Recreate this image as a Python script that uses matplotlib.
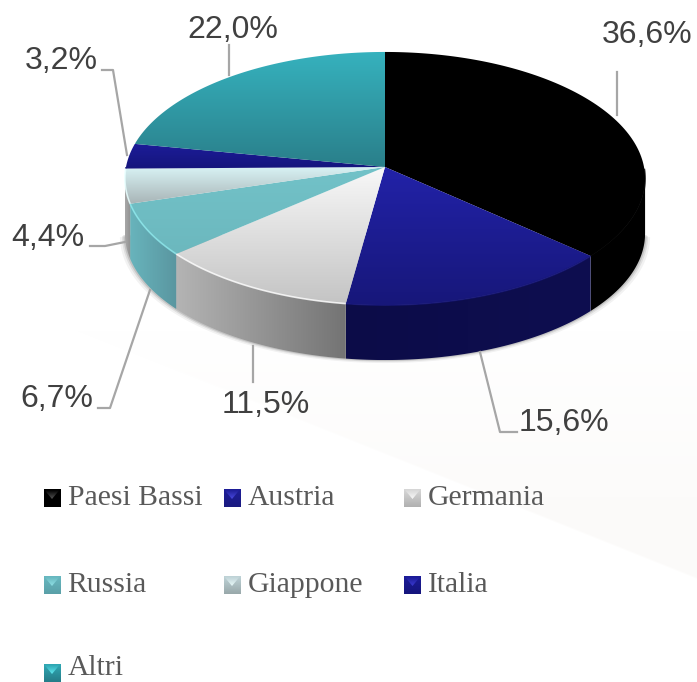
import numpy as np
import matplotlib
matplotlib.use('Agg')
import matplotlib.pyplot as plt
from matplotlib.patches import Polygon

categories = ['Paesi Bassi', 'Austria', 'Germania', 'Russia', 'Giappone', 'Italia', 'Altri']
values = [36.6, 15.6, 11.5, 6.7, 4.4, 3.2, 22.0]
value_labels = ['36,6%', '15,6%', '11,5%', '6,7%', '4,4%', '3,2%', '22,0%']

top_colors = [('#000000', '#000000'), ('#2222a8', '#17177a'), ('#f8f8f8', '#c4c4c4'),
              ('#72c2c8', '#6cb8be'), ('#d8f2f4', '#a8b4b6'), ('#1c1c98', '#15157c'),
              ('#36b2be', '#2a7f8a')]
side_colors = [('#000000', '#000000'), ('#0c0c48', '#0e0e50'), ('#b4b4b4', '#747474'),
               ('#68b4bc', '#5a96a0'), ('#a8a8a8', '#909090'), ('#909090', '#909090'),
               ('#2a8a95', '#2a8a95')]
rim_colors = ['#000000', '#17177a', '#ffffff', '#8ce8ec', '#e8ffff', '#15157c', '#40c0c8']

fig = plt.figure(figsize=(6.97, 6.82), dpi=100)
ax = fig.add_axes([0, 0, 1, 1])
ax.set_xlim(0, 697)
ax.set_ylim(682, 0)
ax.axis('off')

# faint background
yy, xx = np.mgrid[0:682, 0:697]
fade = np.clip((yy - 330) / 170, 0, 1) * np.clip((xx - 30) / 50, 0, 1)
edge = 460 + (xx - 402) * 0.4
fade = fade * np.clip((edge - yy) / 2 + 0.5, 0, 1)
tone = np.array([0.988, 0.984, 0.98])
bg = 1 - fade[..., None] * (1 - tone)
ax.imshow(bg, extent=(0, 697, 682, 0), aspect='auto', zorder=0, interpolation='bilinear')

CX, CY, RX, RY, K, DEPTH = 385.0, 167.0, 259.0, 125.5, 0.0909, 55.0


def rim(theta):
    u, v = np.sin(theta), -np.cos(theta)
    w = 1 - K * v
    return CX + RX * u / w, CY + RY * v / w


def gradient(poly, c1, c2, horizontal=False, zorder=2):
    xs, ys = poly[:, 0], poly[:, 1]
    x0, x1, y0, y1 = xs.min(), xs.max(), ys.min(), ys.max()
    a = np.array(matplotlib.colors.to_rgb(c1))
    b = np.array(matplotlib.colors.to_rgb(c2))
    t = np.linspace(0, 1, 128)
    g = (a[None, :] * (1 - t[:, None]) + b[None, :] * t[:, None])
    g = g[None, :, :] if horizontal else g[:, None, :]
    im = ax.imshow(g, extent=(x0, x1, y1, y0), aspect='auto', zorder=zorder, interpolation='bilinear')
    p = Polygon(poly, closed=True, transform=ax.transData, fc='none', ec='none')
    ax.add_patch(p)
    im.set_clip_path(p)


fractions = np.cumsum([0] + values) / sum(values)
angles = fractions * 2 * np.pi

# soft shadow under the pie
t = np.linspace(0, 2 * np.pi, 721)
x, y = rim(t)
front = -np.cos(t) >= K
for grow, alpha in [(5, 0.05), (3, 0.08), (1.5, 0.12)]:
    sx = CX + (x - CX) * (1 + grow / 260)
    sy = y + grow * 0.6
    ax.fill(np.r_[sx, sx], np.r_[sy, sy + DEPTH], color='black', alpha=0, lw=0)
    th = t[front]
    fx, fy = rim(th)
    fx = CX + (fx - CX) * (1 + grow / 260)
    ax.fill(fx, fy + DEPTH + grow * 0.6, color='black', alpha=alpha, lw=0, zorder=1)

# side faces: only the part of the rim that faces the viewer
for i in range(len(values)):
    th = np.linspace(angles[i], angles[i + 1], 120)
    th = th[-np.cos(th) >= K]
    if len(th) < 2:
        continue
    x, y = rim(th)
    poly = np.r_[np.c_[x, y], np.c_[x[::-1], y[::-1] + DEPTH]]
    c1, c2 = side_colors[i]
    gradient(poly, c1, c2, horizontal=True, zorder=2)

# top faces
for i in range(len(values)):
    th = np.linspace(angles[i], angles[i + 1], 120)
    x, y = rim(th)
    poly = np.r_[[[CX, CY]], np.c_[x, y]]
    gradient(poly, top_colors[i][0], top_colors[i][1], zorder=3)
    mask = y > CY
    if mask.any():
        ax.plot(x[mask], y[mask], color=rim_colors[i], lw=1.2, alpha=0.8, zorder=4, solid_capstyle='butt')

# leader lines
leaders = [[(617, 72), (617, 115)], [(517, 432), (500, 432), (480, 352)], [(253, 346), (253, 382)],
           [(98, 408), (110, 408), (150, 290)], [(90, 246), (105, 246), (125, 242)],
           [(102, 70), (113, 70), (127, 155)], [(229, 45), (229, 75)]]
for pts in leaders:
    pts = np.array(pts)
    ax.plot(pts[:, 0], pts[:, 1], color='#a6a6a6', lw=1.6, zorder=5, solid_joinstyle='round')

# data labels
label_pos = [(647, 35), (564, 423), (266, 405), (57, 399), (48, 238), (61, 61), (233, 30)]
for (lx, ly), s in zip(label_pos, value_labels):
    ax.text(lx, ly, s, family='Liberation Sans', fontsize=23, color='#404040', ha='center', va='center', zorder=6)

# legend
legend_pos = [(43.5, 498), (223.5, 498), (404, 498), (43.5, 585), (223.5, 585), (404, 585), (43.5, 673)]
legend_base = [505, 505, 505, 592, 592, 592, 675]
legend_colors = [('#555555', '#000000', '#000000'), ('#4a4ae0', '#1e1e98', '#1a1a80'),
                 ('#f8f8f8', '#d8d8d8', '#b0b0b0'), ('#90e0e4', '#68b8c0', '#5aa0a8'),
                 ('#e8f8f8', '#c0d4d8', '#98a8aa'), ('#3a3ad0', '#1c1c98', '#15157c'),
                 ('#60e8f0', '#30a8b4', '#257c88')]
for (mx, my), base, name, (hi, mid, lo) in zip(legend_pos, legend_base, categories, legend_colors):
    w, h = 17, 18
    square = np.array([[mx, my - h / 2], [mx + w, my - h / 2], [mx + w, my + h / 2], [mx, my + h / 2]])
    gradient(square, mid, lo, zorder=5)
    tri = np.array([[mx + 1, my - h / 2 + 1], [mx + w - 1, my - h / 2 + 1], [mx + w / 2, my + 1]])
    gradient(tri, mid, hi, zorder=6)
    ax.text(mx + 24, base, name, family='Liberation Serif', fontsize=21.3, color='#595959',
            ha='left', va='baseline', zorder=6)

ax.set_xlim(0, 697)
ax.set_ylim(682, 0)
fig.savefig('out.png', dpi=100)
